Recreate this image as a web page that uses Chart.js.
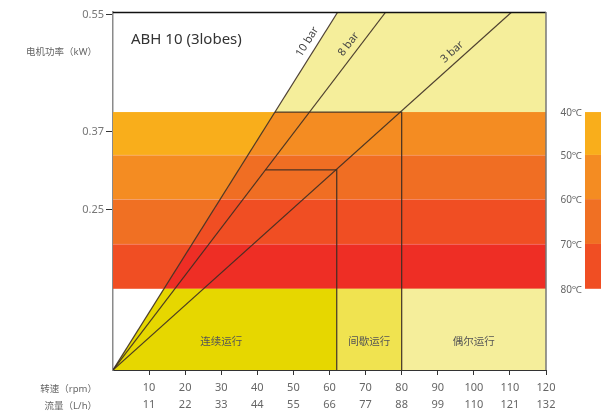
<!DOCTYPE html>
<html lang="zh">
<head>
<meta charset="UTF-8" />
<title>ABH 10 (3lobes)</title>
<script src="https://cdn.jsdelivr.net/npm/chart.js@4.4.1"></script>
<style>
  html, body { margin:0; padding:0; background:#fff; }
</style>
</head>
<body>
<canvas id="myChart" width="601" height="413"></canvas>

<script>
  // axes
  var rpm  = [10,20,30,40,50,60,70,80,90,100,110,120];
  var flow = [11,22,33,44,55,66,77,88,99,110,121,132];
  var powerTicks = [0.55, 0.37, 0.25];
  var Y_MIN = 0.003, Y_MAX = 0.554;

  // temperature bands (top -> bottom)
  var tempLabels = ['40℃','50℃','60℃','70℃','80℃'];
  var tempEdges  = [0.400, 0.334, 0.266, 0.197, 0.128];
  var tempColors = ['#f9ae1b','#f48c22','#f07023','#f04e23'];
  var hotColors  = ['#f48c22','#f06e23','#f04e23','#ee2e25'];

  // pressure lines, from the origin to the top edge
  var barNames  = ['10 bar','8 bar','3 bar'];
  var barTopX   = [62.3, 75.6, 110.5];
  var barLabelY = [0.500, 0.495, 0.481];

  // duty zones
  var zoneNames  = ['连续运行','间歇运行','偶尔运行'];
  var zoneEdges  = [0, 62, 80, 120];
  var zoneColors = ['#e6d700','#f0e350','#f5ee9b'];
  var boxX    = [62, 80];
  var boxY    = [0.311, 0.400];
  var boxFrom = [1, 0];   // which pressure line the limit starts on

  var LINE = 'rgba(60,45,35,0.9)';
  var FONT = '"Noto Sans", "Noto Sans CJK SC", sans-serif';

  function xOnBar(i, y){ return barTopX[i] * (y - Y_MIN) / (Y_MAX - Y_MIN); }

  var sets = [];
  for (var i=0;i<barNames.length;i++){
    sets.push({ label:barNames[i], data:[{x:0,y:Y_MIN},{x:barTopX[i],y:Y_MAX}],
      borderColor:LINE, borderWidth:1.2, pointRadius:0 });
  }
  for (var k=0;k<boxX.length;k++){
    sets.push({ label:'limit '+boxX[k],
      data:[{x:xOnBar(boxFrom[k],boxY[k]),y:boxY[k]},{x:boxX[k],y:boxY[k]},{x:boxX[k],y:Y_MIN}],
      borderColor:LINE, borderWidth:1.3, pointRadius:0 });
  }

  var zones = {
    id:'zones',
    beforeDatasetsDraw:function(chart){
      var c = chart.ctx, a = chart.chartArea, sx = chart.scales.x, sy = chart.scales.y;
      c.save();
      c.beginPath(); c.rect(a.left,a.top,a.width,a.height); c.clip();
      for (var i=0;i<4;i++){
        var t = sy.getPixelForValue(tempEdges[i]), b = sy.getPixelForValue(tempEdges[i+1]);
        c.fillStyle = tempColors[i];
        c.fillRect(a.left, t, a.width, b-t);
      }
      // everything right of the 10 bar line
      c.beginPath();
      c.moveTo(sx.getPixelForValue(0), sy.getPixelForValue(Y_MIN));
      c.lineTo(sx.getPixelForValue(barTopX[0]), sy.getPixelForValue(Y_MAX));
      c.lineTo(a.right, a.top);
      c.lineTo(a.right, a.bottom);
      c.closePath();
      c.clip();
      c.fillStyle = zoneColors[2];
      c.fillRect(a.left,a.top,a.width,a.height);
      for (i=0;i<4;i++){
        var t2 = sy.getPixelForValue(tempEdges[i]), b2 = sy.getPixelForValue(tempEdges[i+1]);
        c.fillStyle = hotColors[i];
        c.fillRect(a.left, t2, a.width, b2-t2);
      }
      var yb = sy.getPixelForValue(tempEdges[4]);
      for (i=0;i<3;i++){
        var l = sx.getPixelForValue(zoneEdges[i]), r = sx.getPixelForValue(zoneEdges[i+1]);
        c.fillStyle = zoneColors[i];
        c.fillRect(l, yb, r-l, a.bottom-yb);
      }
      c.restore();
      // faint seams between bands
      c.save();
      c.strokeStyle = 'rgba(255,255,255,0.25)';
      c.lineWidth = 1;
      for (i=1;i<4;i++){
        var ys = Math.round(sy.getPixelForValue(tempEdges[i]))+0.5;
        c.beginPath(); c.moveTo(a.left,ys); c.lineTo(a.right,ys); c.stroke();
      }
      c.restore();
    },
    afterDraw:function(chart){
      var c = chart.ctx, a = chart.chartArea, sx = chart.scales.x, sy = chart.scales.y;
      c.save();
      // frame top / right
      c.strokeStyle = '#111'; c.lineWidth = 1.5;
      c.beginPath(); c.moveTo(a.left,a.top+0.5); c.lineTo(a.right,a.top+0.5); c.stroke();
      c.strokeStyle = '#777';
      c.beginPath(); c.moveTo(a.right,a.top); c.lineTo(a.right,a.bottom); c.stroke();

      // title
      c.fillStyle = '#333';
      c.font = '15px ' + FONT;
      c.textAlign = 'left'; c.textBaseline = 'middle';
      c.fillText('ABH 10 (3lobes)', a.left+18, a.top+28);

      // axis names
      c.fillStyle = '#666';
      c.font = '9.5px ' + FONT;
      c.textAlign = 'right';
      c.fillText('电机功率（kW）', 97, 52);
      c.fillText('转速（rpm）', 97, a.bottom+19);
      c.fillText('流量（L/h）', 97, a.bottom+36);

      // pressure labels along the lines
      c.fillStyle = '#444';
      c.font = '11px ' + FONT;
      c.textAlign = 'center';
      for (var i=0;i<barNames.length;i++){
        var x0 = sx.getPixelForValue(0), y0 = sy.getPixelForValue(Y_MIN);
        var dx = sx.getPixelForValue(barTopX[i]) - x0, dy = sy.getPixelForValue(Y_MAX) - y0;
        var len = Math.sqrt(dx*dx+dy*dy);
        var px = sx.getPixelForValue(xOnBar(i, barLabelY[i])) + dy/len*10;
        var py = sy.getPixelForValue(barLabelY[i]) - dx/len*10;
        c.save();
        c.translate(px, py);
        c.rotate(Math.atan2(dy, dx));
        c.fillText(barNames[i], 0, 0);
        c.restore();
      }

      // zone labels
      c.fillStyle = '#555';
      c.font = '10.5px ' + FONT;
      var zx = [30, 71, 100];
      for (i=0;i<zoneNames.length;i++){
        c.fillText(zoneNames[i], sx.getPixelForValue(zx[i]), sy.getPixelForValue(0.046));
      }

      // temperature scale on the right
      for (i=0;i<4;i++){
        var t = sy.getPixelForValue(tempEdges[i]), b = sy.getPixelForValue(tempEdges[i+1]);
        c.fillStyle = tempColors[i];
        c.fillRect(a.right+39, t, chart.width-(a.right+39), b-t);
      }
      c.fillStyle = '#666';
      c.font = '10px ' + FONT;
      c.textAlign = 'right';
      for (i=0;i<tempLabels.length;i++){
        c.fillText(tempLabels[i], a.right+36, sy.getPixelForValue(tempEdges[i])+1);
      }
      c.restore();
    }
  };

  var chart = new Chart(document.getElementById('myChart'), {
    type:'line',
    data:{ datasets:sets },
    options:{
      responsive:false,
      animation:false,
      layout:{ padding:{ top:12, right:55, left:0, bottom:0 } },
      plugins:{ legend:{display:false}, tooltip:{enabled:false} },
      scales:{
        x:{
          type:'linear', min:0, max:120,
          afterBuildTicks:function(s){ s.ticks = rpm.map(function(v){ return {value:v}; }); },
          afterFit:function(s){ s.height = 43; },
          ticks:{
            autoSkip:false, maxRotation:0, padding:4, color:'#666',
            font:{ size:11, family:FONT, lineHeight:1.55 },
            callback:function(v){ var i = rpm.indexOf(v); return [String(rpm[i]), String(flow[i])]; }
          },
          grid:{ drawOnChartArea:false, tickLength:5, color:'#333' },
          border:{ color:'#333', width:1 }
        },
        y:{
          type:'linear', min:Y_MIN, max:Y_MAX,
          afterBuildTicks:function(s){ s.ticks = powerTicks.map(function(v){ return {value:v}; }); },
          afterFit:function(s){ s.width = 113; },
          ticks:{
            padding:2, color:'#777',
            font:{ size:11, family:FONT },
            callback:function(v){ return v.toFixed(2); }
          },
          grid:{ drawOnChartArea:false, tickLength:7, color:'#333' },
          border:{ color:'#8a8a8a', width:1.5 }
        }
      }
    },
    plugins:[zones]
  });
</script>
</body>
</html>
